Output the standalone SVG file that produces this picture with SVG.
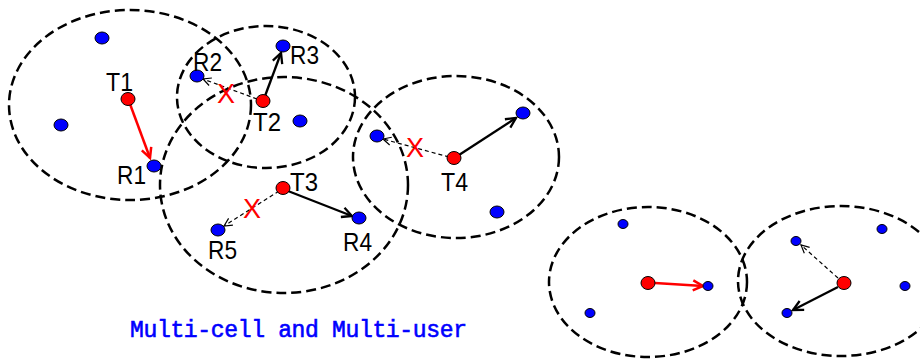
<svg xmlns="http://www.w3.org/2000/svg" width="920" height="359" viewBox="0 0 920 359">
<style>
.cell{fill:none;stroke:#000;stroke-width:2.5;stroke-dasharray:10 5}
.tx{fill:#ff0000;stroke:#000;stroke-width:1}
.rx{fill:#0000ff;stroke:#000;stroke-width:1}
.lbl{font-family:"Liberation Sans",sans-serif;font-size:26px;fill:#000}
.x{font-family:"Liberation Sans",sans-serif;font-size:27px;fill:#ff0000}
.sol{stroke:#000;stroke-width:2.3;fill:none}
.red{stroke:#ff0000;stroke-width:2.5;fill:none}
.dsh{stroke:#000;stroke-width:1.2;stroke-dasharray:4 3;fill:none}
</style>
<defs>
<marker id="hb" viewBox="-12 -7 14 14" refX="0" refY="0" markerWidth="14" markerHeight="14" markerUnits="userSpaceOnUse" orient="auto"><path d="M-10,-5 L0,0 L-10,5" fill="none" stroke="#000" stroke-width="2.3"/></marker>
<marker id="hr" viewBox="-12 -7 14 14" refX="0" refY="0" markerWidth="14" markerHeight="14" markerUnits="userSpaceOnUse" orient="auto"><path d="M-10,-5 L0,0 L-10,5" fill="none" stroke="#ff0000" stroke-width="2.5"/></marker>
<marker id="hd" viewBox="-12 -7 14 14" refX="0" refY="0" markerWidth="14" markerHeight="14" markerUnits="userSpaceOnUse" orient="auto"><path d="M-8,-4 L0,0 L-8,4" fill="none" stroke="#000" stroke-width="1.2"/></marker>
</defs>
<g id="cells">
<ellipse class="cell" cx="130" cy="105" rx="121" ry="95"/>
<ellipse class="cell" cx="266" cy="97" rx="89" ry="71"/>
<ellipse class="cell" cx="284" cy="185" rx="124" ry="108"/>
<ellipse class="cell" cx="456" cy="157" rx="103" ry="81"/>
<ellipse class="cell" cx="648" cy="282" rx="99" ry="75"/>
<ellipse class="cell" cx="841" cy="281" rx="103" ry="75"/>
</g>
<g id="connectors">
<line class="red" x1="130" y1="104" x2="150" y2="158" marker-end="url(#hr)"/>
<line class="sol" x1="265" y1="96" x2="281" y2="53" marker-end="url(#hb)"/>
<line class="dsh" x1="257" y1="99" x2="203" y2="79" marker-end="url(#hd)"/>
<line class="sol" x1="288" y1="191" x2="352" y2="216" marker-end="url(#hb)"/>
<line class="dsh" x1="279" y1="191" x2="224" y2="226" marker-end="url(#hd)"/>
<line class="dsh" x1="449" y1="157" x2="383" y2="139" marker-end="url(#hd)"/>
<line class="sol" x1="459" y1="155" x2="516" y2="118" marker-end="url(#hb)"/>
<line class="red" x1="655" y1="283" x2="703" y2="286" marker-end="url(#hr)"/>
<line class="dsh" x1="838" y1="278" x2="801" y2="245" marker-end="url(#hd)"/>
<line class="sol" x1="838" y1="287" x2="793" y2="310" marker-end="url(#hb)"/>
<text class="x" x="226" y="103" text-anchor="middle">X</text>
<text class="x" x="415" y="157" text-anchor="middle">X</text>
<text class="x" x="252" y="218" text-anchor="middle">X</text>
</g>
<g id="T1"><ellipse class="tx" cx="128" cy="99" rx="7" ry="6.5"/><text class="lbl" x="106" y="91" textLength="27" lengthAdjust="spacingAndGlyphs">T1</text></g>
<g id="T2"><ellipse class="tx" cx="263" cy="101" rx="7" ry="6.5"/><text class="lbl" x="253" y="131" textLength="28" lengthAdjust="spacingAndGlyphs">T2</text></g>
<g id="T3"><ellipse class="tx" cx="283" cy="188" rx="7" ry="6.5"/><text class="lbl" x="290" y="191" textLength="28" lengthAdjust="spacingAndGlyphs">T3</text></g>
<g id="T4"><ellipse class="tx" cx="454" cy="158" rx="7" ry="6.5"/><text class="lbl" x="441" y="191" textLength="27" lengthAdjust="spacingAndGlyphs">T4</text></g>
<g id="R1"><ellipse class="rx" cx="154" cy="166" rx="7" ry="6"/><text class="lbl" x="117" y="184" textLength="29" lengthAdjust="spacingAndGlyphs">R1</text></g>
<g id="R2"><ellipse class="rx" cx="197" cy="76" rx="7" ry="6"/><text class="lbl" x="193" y="71" textLength="29" lengthAdjust="spacingAndGlyphs">R2</text></g>
<g id="R3"><ellipse class="rx" cx="283" cy="46" rx="7" ry="6"/><text class="lbl" x="290" y="64" textLength="29" lengthAdjust="spacingAndGlyphs">R3</text></g>
<g id="R4"><ellipse class="rx" cx="359" cy="218" rx="7" ry="6"/><text class="lbl" x="343" y="251" textLength="29" lengthAdjust="spacingAndGlyphs">R4</text></g>
<g id="R5"><ellipse class="rx" cx="218" cy="230" rx="7" ry="6"/><text class="lbl" x="208" y="259" textLength="29" lengthAdjust="spacingAndGlyphs">R5</text></g>
<g id="u1"><ellipse class="rx" cx="102" cy="38" rx="7" ry="6"/></g>
<g id="u2"><ellipse class="rx" cx="61" cy="125" rx="7" ry="6"/></g>
<g id="u3"><ellipse class="rx" cx="300" cy="121" rx="7" ry="6"/></g>
<g id="u4"><ellipse class="rx" cx="377" cy="136" rx="7" ry="6"/></g>
<g id="u5"><ellipse class="rx" cx="523" cy="113" rx="7" ry="6"/></g>
<g id="u6"><ellipse class="rx" cx="497" cy="212" rx="7" ry="6"/></g>
<g id="bT1"><ellipse class="tx" cx="648" cy="283" rx="7" ry="6.5"/></g>
<g id="bT2"><ellipse class="tx" cx="844" cy="283" rx="7" ry="6.5"/></g>
<g id="b1"><ellipse class="rx" cx="623" cy="224" rx="5" ry="4.5"/></g>
<g id="b2"><ellipse class="rx" cx="708" cy="286" rx="5" ry="4.5"/></g>
<g id="b3"><ellipse class="rx" cx="590" cy="313" rx="5" ry="4.5"/></g>
<g id="b4"><ellipse class="rx" cx="796" cy="241" rx="5" ry="4.5"/></g>
<g id="b5"><ellipse class="rx" cx="882" cy="229" rx="5" ry="4.5"/></g>
<g id="b6"><ellipse class="rx" cx="905" cy="286" rx="5" ry="4.5"/></g>
<g id="b7"><ellipse class="rx" cx="787" cy="313" rx="5" ry="4.5"/></g>
<text x="130" y="337" textLength="337" font-family="'Liberation Mono',monospace" font-size="23" stroke="#0000ff" stroke-width="0.6" fill="#0000ff">Multi-cell and Multi-user</text>
</svg>
